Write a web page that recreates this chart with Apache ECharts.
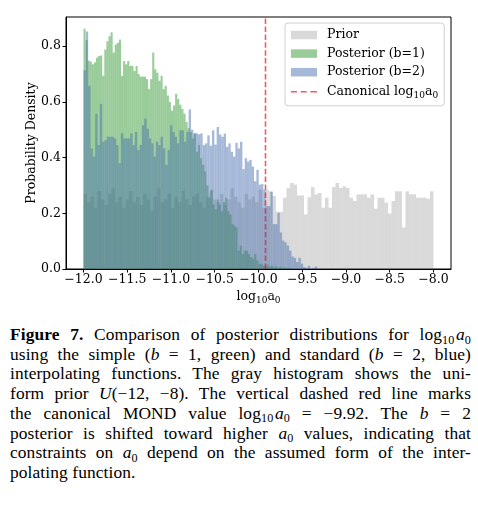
<!DOCTYPE html>
<html>
<head>
<meta charset="utf-8">
<script src="https://cdn.jsdelivr.net/npm/echarts@6/dist/echarts.min.js"></script>
<style>
html,body{margin:0;padding:0;background:#fff;}
#chart{position:absolute;left:0;top:0;width:478px;height:310px;}
#cap{position:absolute;left:10px;top:325px;width:461px;font-family:'Liberation Serif','Times New Roman',serif;font-size:17.4px;letter-spacing:0.1px;line-height:19.7px;color:#000;}
#cap .l{text-align:justify;text-align-last:justify;white-space:nowrap;}
#cap .last{text-align:left;text-align-last:left;}
#cap sub{font-size:0.7em;vertical-align:baseline;position:relative;top:0.3em;line-height:0;}
</style>
</head>
<body>
<div id="chart"></div>
<div id="cap">
<div class="l"><b>Figure 7.</b> Comparison of posterior distributions for log<sub>10</sub>&#8202;<i>a</i><sub>0</sub></div>
<div class="l">using the simple (<i>b</i> = 1, green) and standard (<i>b</i> = 2, blue)</div>
<div class="l">interpolating functions. The gray histogram shows the uni-</div>
<div class="l">form prior <i>U</i>(−12, −8). The vertical dashed red line marks</div>
<div class="l">the canonical MOND value log<sub>10</sub>&#8202;<i>a</i><sub>0</sub> = −9.92. The <i>b</i> = 2</div>
<div class="l">posterior is shifted toward higher <i>a</i><sub>0</sub> values, indicating that</div>
<div class="l">constraints on <i>a</i><sub>0</sub> depend on the assumed form of the inter-</div>
<div class="l last">polating function.</div>
</div>
<script>
// ---- data ----
const PRIOR_RANGE = [-12, -8];
const POST1_RANGE = [-12, -9.62];
const POST2_RANGE = [-12, -9.33];
const CANONICAL = -9.92;
const X_TICKS = [-12, -11.5, -11, -10.5, -10, -9.5, -9, -8.5, -8];
const Y_TICKS = [0, 0.2, 0.4, 0.6, 0.8];
const SERIES_NAMES = ['Prior', 'Posterior (b=1)', 'Posterior (b=2)', 'Canonical log10a0'];

const priorDensity = [
  0.27,0.24,0.26,0.22,0.28,0.25,0.23,0.27,0.29,0.24,
  0.26,0.22,0.25,0.28,0.24,0.26,0.23,0.27,0.25,0.21,
  0.26,0.29,0.24,0.25,0.27,0.22,0.26,0.24,0.28,0.25,
  0.23,0.26,0.27,0.24,0.22,0.26,0.28,0.25,0.24,0.27,
  0.23,0.25,0.29,0.26,0.24,0.22,0.27,0.25,0.26,0.24,
  0.285,0.22,
  0.285,0.279,0.262,0.205,0.205,0.256,0.291,0.309,0.303,0.264,
  0.264,0.196,0.258,0.294,0.268,0.273,0.220,0.256,0.220,0.294,
  0.309,0.291,0.297,0.291,0.256,0.244,0.268,0.268,0.268,0.256,
  0.268,0.217,0.256,0.256,0.238,0.199,0.244,0.279,0.279,0.149,
  0.279,0.268,0.268,0.256,0.256,0.256,0.252,0.279
];

const post1Density = [
  0.863,0.822,0.748,0.745,0.735,0.742,0.759,0.765,0.767,0.694,
  0.788,0.818,0.836,0.850,0.777,0.806,0.812,0.824,0.694,0.747,
  0.735,0.747,0.729,0.729,0.711,0.729,0.700,0.691,0.691,0.691,
  0.682,0.646,0.682,0.777,0.717,0.705,0.676,0.694,0.646,0.658,
  0.623,0.600,0.569,0.587,0.629,0.611,0.590,0.575,0.558,0.528,
  0.505,0.492,0.469,0.487,0.421,0.445,0.398,0.374,0.350,0.300,
  0.256,0.285,0.232,0.214,0.250,0.232,0.208,0.240,0.256,0.208,
  0.196,0.161,0.155,0.149,0.066,0.084,0.054,0.066,0.066,0.054,
  0.043,0.037,0.053,0.031,0.019,0.019,0.013,0.010,0.016,0.008,
  0.012,0.006,0.010,0.004,0.008,0.004,0.006,0.003,0.004,0.004
];

const post2Density = [
  0.714,0.853,0.658,0.433,0.404,0.557,0.445,0.593,0.457,0.463,
  0.475,0.475,0.475,0.469,0.445,0.380,0.487,0.469,0.469,0.469,
  0.487,0.445,
  0.492,0.427,0.445,0.516,0.540,0.504,0.469,0.451,0.404,0.457,
  0.445,0.475,0.433,0.374,0.427,0.516,0.492,0.475,0.451,0.498,
  0.498,0.457,0.492,0.573,0.500,0.487,0.487,
  0.484,0.487,0.445,0.451,0.480,0.443,0.498,0.447,0.510,0.483,
  0.475,0.486,0.439,0.451,0.421,0.404,0.453,0.433,0.457,0.359,
  0.398,0.386,0.392,0.368,0.315,0.356,0.303,0.305,0.285,0.226,
  0.226,0.277,0.161,0.161,0.202,0.131,0.102,0.096,0.084,0.066,
  0.045,0.040,0.025,0.040,0.019,0.007,0.004,0.011,0.000,0.004,0.009
];

// ---- build ----
const Y_MAX = 0.905;
const COLORS = {
  prior: 'rgba(128,128,128,0.3)',
  post1: 'rgba(0,128,0,0.4)',
  post2: 'rgba(76,114,176,0.5)',
  canon: 'rgba(228,26,28,0.7)'
};
const FONT = 'DejaVu Serif';
const DASH_ICON = 'path://M0,0h0.01v0.01h-0.01z M0,8.49h0.01v0.01h-0.01z M0,3.45h6v1.6h-6z M9.7,3.45h6v1.6h-6z M19.4,3.45h6.6v1.6h-6.6z';

function toBins(range, vals) {
  const w = (range[1] - range[0]) / vals.length;
  return vals.map((v, i) => [range[0] + i * w, range[0] + (i + 1) * w, v]);
}
function histRender(color) {
  return function (params, api) {
    const p0 = api.coord([api.value(0), api.value(2)]);
    const p1 = api.coord([api.value(1), 0]);
    return {
      type: 'rect',
      shape: { x: p0[0], y: p0[1], width: p1[0] - p0[0], height: p1[1] - p0[1] },
      style: { fill: color }
    };
  };
}
function histSeries(name, range, vals, color) {
  return {
    name: name, type: 'custom', renderItem: histRender(color),
    itemStyle: { color: color },
    encode: { x: [0, 1], y: 2 },
    data: toBins(range, vals), clip: true, silent: true
  };
}
const fmt = v => (v < 0 ? '\u2212' : '') + Math.abs(v).toFixed(1);
const sub = { fontSize: 9, fontFamily: FONT, lineHeight: 10, padding: [7, 0, 0, 0] };

const chart = echarts.init(document.getElementById('chart'), null, { renderer: 'canvas' });
chart.setOption({
  animation: false,
  backgroundColor: '#fff',
  textStyle: { fontFamily: FONT },
  grid: { left: 66, right: 27, top: 17, height: 255, show: true, borderColor: '#000', borderWidth: 1, backgroundColor: 'transparent' },
  xAxis: {
    type: 'value', min: -12.2, max: -7.8,
    name: 'log{sub|10}a{sub|0}', nameLocation: 'middle', nameGap: 21, nameMoveOverlap: false,
    nameTextStyle: { fontFamily: FONT, fontSize: 12.5, color: '#000', lineHeight: 14, rich: { sub: sub } },
    axisLine: { show: true, lineStyle: { color: '#000', width: 1 } },
    axisTick: { show: true, length: 3.5, lineStyle: { color: '#000', width: 1 }, customValues: X_TICKS },
    axisLabel: { color: '#000', fontSize: 12.5, fontFamily: FONT, margin: 4, customValues: X_TICKS, formatter: fmt },
    splitLine: { show: false }
  },
  yAxis: {
    type: 'value', min: 0, max: Y_MAX,
    name: 'Probability Density', nameLocation: 'middle', nameGap: 28, nameRotate: 90, nameMoveOverlap: false,
    nameTextStyle: { fontFamily: FONT, fontSize: 12.5, color: '#000' },
    axisLine: { show: true, lineStyle: { color: '#000', width: 1 } },
    axisTick: { show: true, length: 3.5, lineStyle: { color: '#000', width: 1 }, customValues: Y_TICKS },
    axisLabel: { color: '#000', fontSize: 12.5, fontFamily: FONT, margin: 5, customValues: Y_TICKS, formatter: v => v.toFixed(1) },
    splitLine: { show: false }
  },
  legend: {
    orient: 'vertical', left: 285, top: 23,
    padding: [5, 6, 6, 6], itemGap: 4.6, itemWidth: 26, itemHeight: 8.5,
    backgroundColor: 'rgba(255,255,255,0.8)', borderColor: '#d0d0d0', borderWidth: 1, borderRadius: 3,
    data: [
      { name: SERIES_NAMES[0], icon: 'rect' },
      { name: SERIES_NAMES[1], icon: 'rect' },
      { name: SERIES_NAMES[2], icon: 'rect' },
      { name: SERIES_NAMES[3], icon: DASH_ICON }
    ],
    textStyle: { fontFamily: FONT, fontSize: 12.5, color: '#000', lineHeight: 14, padding: [0, 0, 0, 5], rich: { sub: sub } },
    formatter: name => name === SERIES_NAMES[3] ? 'Canonical log{sub|10}a{sub|0}' : name,
    selectedMode: false
  },
  series: [
    histSeries(SERIES_NAMES[0], PRIOR_RANGE, priorDensity, COLORS.prior),
    histSeries(SERIES_NAMES[1], POST1_RANGE, post1Density, COLORS.post1),
    histSeries(SERIES_NAMES[2], POST2_RANGE, post2Density, COLORS.post2),
    {
      name: SERIES_NAMES[3], type: 'custom', silent: true,
      itemStyle: { color: COLORS.canon },
      encode: { x: 0, y: 1 },
      data: [[CANONICAL, 0]],
      renderItem: function (params, api) {
        const bottom = api.coord([api.value(0), 0]);
        const top = api.coord([api.value(0), Y_MAX]);
        return {
          type: 'line',
          shape: { x1: bottom[0], y1: bottom[1], x2: top[0], y2: top[1] },
          style: { stroke: COLORS.canon, lineWidth: 1.6, lineDash: [5.5, 2.4], fill: null }
        };
      }
    }
  ]
});
</script>
</body>
</html>
